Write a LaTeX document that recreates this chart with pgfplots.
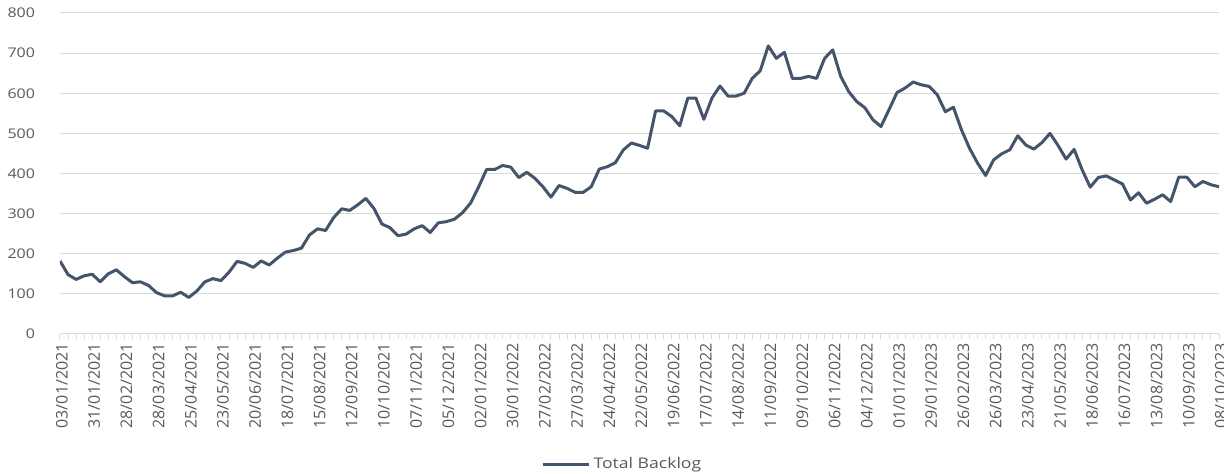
\documentclass[border=0pt]{standalone}
\usepackage{fontspec}
\setmainfont{Open Sans}[FakeStretch=1.2]
\newfontfamily\xlabfont{Open Sans}
\usepackage{pgfplots}
\pgfplotsset{compat=1.18}
\definecolor{linec}{HTML}{44546A}
\definecolor{gridc}{HTML}{D9D9D9}
\definecolor{txtc}{HTML}{595959}
\begin{document}
\begin{tikzpicture}
\path[use as bounding box] (-45pt,-105pt) rectangle (873pt,250.5pt);
\begin{axis}[
  at={(0,0)}, anchor=south west,
  scale only axis, width=869.25pt, height=240.75pt,
  xmin=0, xmax=144, ymin=0, ymax=800,
  axis x line=bottom, axis y line=left, axis line style={-},
  x axis line style={draw=gridc, line width=0.75pt},
  y axis line style={draw=none},
  ytick={0,100,...,800},
  ymajorgrids, grid style={draw=gridc, line width=0.75pt},
  ytick style={draw=none},
  xtick={0,4,...,144},
  minor xtick={0,...,144},
  xtick align=outside,
  major tick length=3.5pt, minor tick length=3.5pt,
  xtick style={draw=gridc, line width=0.75pt},
  minor x tick style={draw=gridc, line width=0.75pt},
  xticklabels={03/01/2021,31/01/2021,28/02/2021,28/03/2021,25/04/2021,23/05/2021,20/06/2021,18/07/2021,15/08/2021,12/09/2021,10/10/2021,07/11/2021,05/12/2021,02/01/2022,30/01/2022,27/02/2022,27/03/2022,24/04/2022,22/05/2022,19/06/2022,17/07/2022,14/08/2022,11/09/2022,09/10/2022,06/11/2022,04/12/2022,01/01/2023,29/01/2023,26/02/2023,26/03/2023,23/04/2023,21/05/2023,18/06/2023,16/07/2023,13/08/2023,10/09/2023,08/10/2023},
  x tick label style={font=\xlabfont\fontsize{12}{14}\selectfont, rotate=90, anchor=east, text=txtc, yshift=-1.5pt},
  y tick label style={font=\fontsize{10}{12}\selectfont, text=txtc, xshift=-13.5pt},
  /pgf/number format/assume math mode=true,
  legend style={at={(0.415,-0.405)}, anchor=west, draw=none, fill=none, font=\fontsize{11}{13}\selectfont, text=txtc, inner sep=0pt},
  legend image code/.code={\draw[#1] (0pt,0pt) -- (35pt,0pt);},
]
\addplot[linec, line width=2.25pt, line join=round] table {
x y
0 182
1 148
2 136
3 145
4 149
5 130
6 150
7 160
8 143
9 128
10 130
11 121
12 103
13 95
14 95
15 104
16 91
17 107
18 130
19 138
20 133
21 154
22 181
23 176
24 166
25 182
26 172
27 189
28 204
29 208
30 214
31 247
32 262
33 258
34 290
35 312
36 308
37 322
38 338
39 313
40 274
41 265
42 245
43 249
44 262
45 270
46 253
47 277
48 280
49 286
50 302
51 326
52 366
53 410
54 410
55 420
56 416
57 390
58 403
59 388
60 367
61 341
62 370
63 363
64 353
65 353
66 367
67 411
68 417
69 427
70 459
71 476
72 470
73 463
74 556
75 556
76 542
77 519
78 588
79 588
80 535
81 588
82 618
83 593
84 593
85 600
86 637
87 656
88 718
89 687
90 702
91 637
92 637
93 642
94 637
95 687
96 708
97 642
98 604
99 579
100 564
101 534
102 517
103 559
104 602
105 613
106 628
107 621
108 617
109 596
110 554
111 565
112 509
113 463
114 426
115 395
116 434
117 449
118 459
119 494
120 471
121 461
122 477
123 500
124 470
125 436
126 460
127 409
128 366
129 390
130 394
131 384
132 374
133 334
134 352
135 326
136 336
137 347
138 330
139 391
140 391
141 367
142 380
143 372
144 367
};
\legend{Total Backlog}
\end{axis}
\end{tikzpicture}
\end{document}
